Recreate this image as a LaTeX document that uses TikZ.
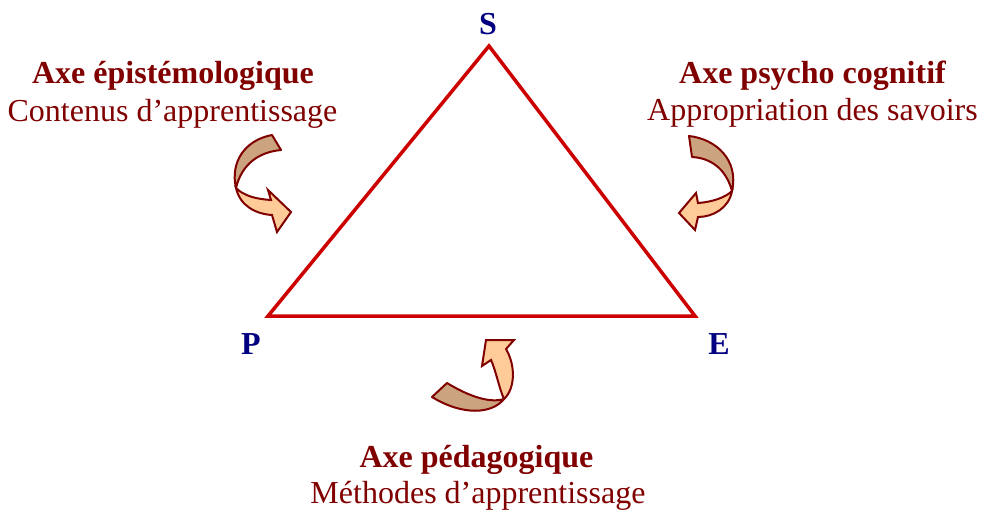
\documentclass[tikz,border=0pt]{standalone}
\usepackage{fontspec}
\setmainfont{Liberation Serif}
\definecolor{maroon}{RGB}{128,0,0}
\definecolor{navyblue}{RGB}{0,0,128}
\definecolor{trired}{RGB}{204,0,0}
\definecolor{tanfill}{RGB}{204,163,127}
\definecolor{peach}{RGB}{255,204,153}
\tikzset{
  axetitle/.style={anchor=base, text=maroon, font=\fontsize{32}{38}\selectfont\bfseries, inner sep=0pt},
  axesub/.style={anchor=base, text=maroon, font=\fontsize{32}{38}\selectfont, inner sep=0pt},
  vertexlbl/.style={anchor=base, text=navyblue, font=\fontsize{32}{38}\selectfont\bfseries, inner sep=0pt},
  backband/.style={fill=tanfill, draw=maroon, line width=2pt, line join=round},
  frontband/.style={fill=peach, draw=maroon, line width=2pt, line join=miter},
  triline/.style={draw=trired, line width=3.5pt, line join=miter}
}
\begin{document}
\begin{tikzpicture}[x=1pt, y=-1pt]
\useasboundingbox (0,0) rectangle (981,511);

% triangle
\coordinate (s) at (489,46);
\coordinate (p) at (268,316);
\coordinate (e) at (695,316);
\draw[triline] (s) -- (p) -- (e) -- cycle;

% vertex labels
\node[vertexlbl] (ls) at (488,35) {S};
\node[vertexlbl] (lp) at (251,354) {P};
\node[vertexlbl] (le) at (719,354) {E};

% texts
\node[axetitle] (epiT) at (173,83) {Axe épistémologique};
\node[axesub] (epiS) at (172.5,121) {Contenus d’apprentissage};
\node[axetitle] (psyT) at (812.5,83) {Axe psycho cognitif};
\node[axesub] (psyS) at (812.5,120) {Appropriation des savoirs};
\node[axetitle] (pedT) at (476.5,467) {Axe pédagogique};
\node[axesub] (pedS) at (478,503) {Méthodes d’apprentissage};

% left curved arrow
\path[backband] (272,135) .. controls (245,140) and (230,162) .. (236,188)
  .. controls (242,163) and (260,152) .. (281,150) -- cycle;
\path[frontband] (236,188) .. controls (240,206) and (256,214) .. (272,215)
  -- (277,232) -- (291,212) -- (268,190) -- (271,200)
  .. controls (256,199) and (244,196) .. (236,188) -- cycle;

% right curved arrow
\path[backband] (689,136) .. controls (716,139) and (739,160) .. (732,191)
  .. controls (726,169) and (711,158) .. (692,157) -- cycle;
\path[frontband] (732,191) .. controls (729,208) and (713,217) .. (698,217)
  -- (695,230) -- (679,213) -- (696,193) -- (698,203)
  .. controls (713,202) and (726,197) .. (732,191) -- cycle;

% bottom curved arrow
\path[backband] (447,383) .. controls (465,394) and (488,404) .. (504,399)
  .. controls (492,414) and (463,416) .. (432,397) -- cycle;
\path[frontband] (504,399) .. controls (515,389) and (516,366) .. (506,349)
  -- (514,340) -- (486,340) -- (482,366) -- (491,360)
  .. controls (496,371) and (499,388) .. (504,399) -- cycle;
\end{tikzpicture}
\end{document}
